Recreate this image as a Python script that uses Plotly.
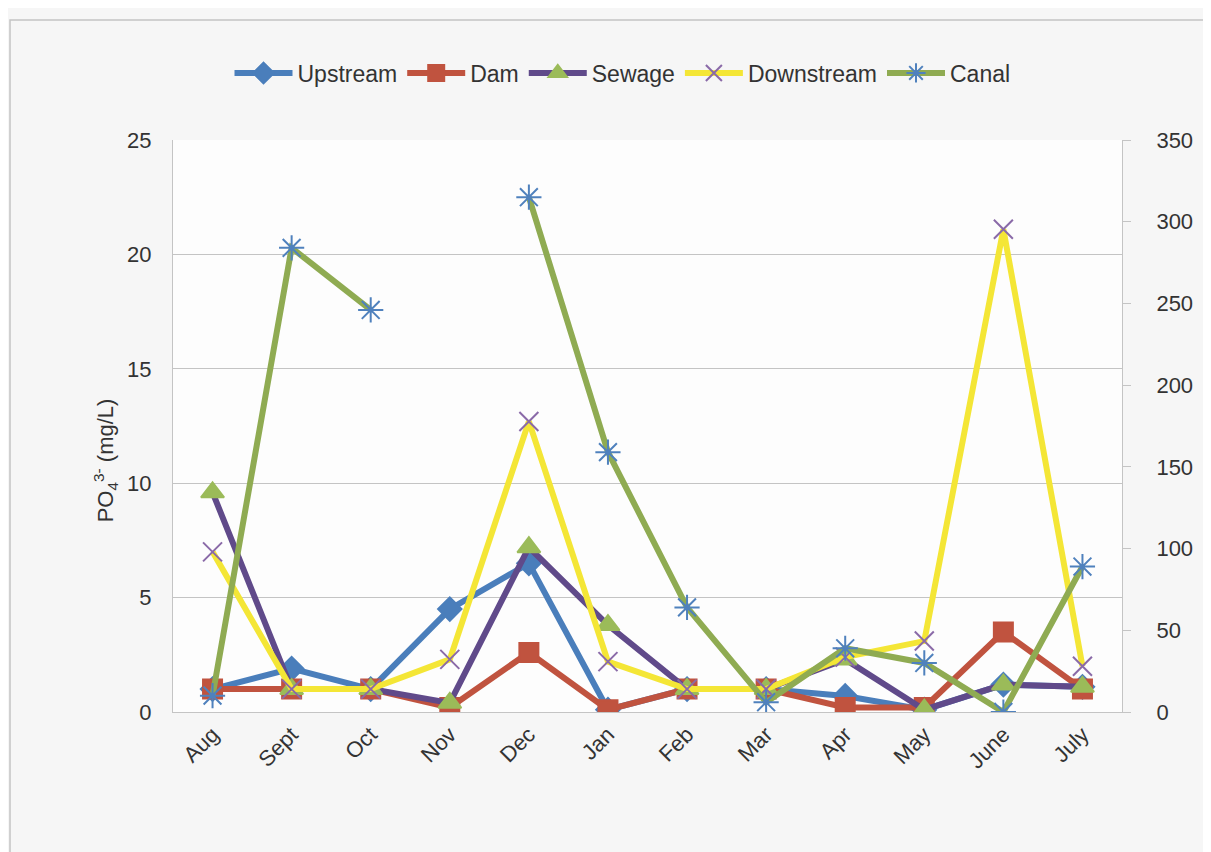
"""PO4 concentration by month at five river sites (Canal on secondary axis)."""
import plotly.graph_objects as go

months = ['Aug', 'Sept', 'Oct', 'Nov', 'Dec', 'Jan', 'Feb', 'Mar', 'Apr', 'May', 'June', 'July']

upstream = [1.0, 1.9, 1.0, 4.5, 6.5, 0.1, 1.0, 1.0, 0.7, 0.1, 1.2, 1.1]
dam = [1.0, 1.0, 1.0, 0.2, 2.6, 0.1, 1.0, 1.0, 0.2, 0.2, 3.5, 1.0]
sewage = [9.6, 1.0, 1.0, 0.4, 7.2, 3.8, 1.0, 1.0, 2.3, 0.1, 1.2, 1.1]
downstream = [7.0, 1.0, 1.0, 2.3, 12.7, 2.2, 1.0, 1.0, 2.4, 3.1, 21.1, 2.0]
canal = [10, 284, 246, None, 315, 159, 64, 6, 39, 30, 0, 89]  # right axis

FONT = 'Liberation Sans, Arial, sans-serif'
GRID = '#c4c4c4'
TXT = '#333333'

fig = go.Figure()

# (name, values, line colour, marker symbol, marker colour, marker size, axis)
series = [
    ('Upstream', upstream, '#4a7ebb', 'diamond', '#4a7ebb', 18, 'y'),
    ('Dam', dam, '#c0533f', 'square', '#c0533f', 19, 'y'),
    ('Sewage', sewage, '#604a8a', 'triangle-up', '#9bbb59', 20, 'y'),
    ('Downstream', downstream, '#f4e636', 'x-thin-open', '#8a6aa8', 19, 'y'),
    ('Canal', canal, '#8fab52', 'asterisk-open', '#4f81bd', 21, 'y2'),
]

for name, vals, lc, sym, mc, ms, ax in series:
    fig.add_trace(go.Scatter(
        x=months, y=vals, name=name, yaxis=ax,
        mode='lines+markers', connectgaps=False,
        line=dict(color=lc, width=6),
        marker=dict(symbol=sym, color=mc, size=ms,
                    line=dict(color=mc, width=2)),
    ))

# the page body adds an 8px offset, so margins are shifted to compensate
fig.update_layout(
    width=1211, height=852,
    paper_bgcolor='#f6f6f6', plot_bgcolor='#fdfdfd',
    margin=dict(l=165, r=97, t=132, b=148),
    font=dict(family=FONT, size=22, color=TXT),
    legend=dict(orientation='h', x=0.5 - 25 / 949, xanchor='center',
                y=1 - 65 / 852, yref='container', yanchor='middle',
                font=dict(size=23, color=TXT), itemwidth=58,
                bgcolor='rgba(0,0,0,0)', tracegroupgap=0),
    xaxis=dict(type='category', range=[-0.5, 11.5], tickangle=-45,
               showgrid=False, showline=True, linecolor=GRID,
               ticks='', tickfont=dict(size=22, color=TXT)),
    yaxis=dict(range=[0, 25], dtick=5, showgrid=True, gridcolor=GRID,
               showline=True, linecolor=GRID, zeroline=False,
               ticks='', ticklabelstandoff=16),
    yaxis2=dict(range=[0, 350], dtick=50, overlaying='y', side='right',
                showgrid=False, showline=True, linecolor=GRID, zeroline=False,
                ticks='outside', ticklen=8, tickcolor=GRID, ticklabelstandoff=21),
    annotations=[dict(text='PO<sub>4</sub><sup>3-</sup> (mg/L)', textangle=-90,
                      xref='paper', yref='paper', x=-68 / 949, y=0.44,
                      xanchor='center', yanchor='middle', showarrow=False,
                      font=dict(size=22, color=TXT))],
    shapes=[dict(type='rect', xref='paper', yref='paper',
                 x0=-163 / 949, x1=1.25, y0=-0.4, y1=1 + 120 / 572,
                 line=dict(color='#c4c4c4', width=1.5), layer='below')],
)

fig.write_html("out.html")
